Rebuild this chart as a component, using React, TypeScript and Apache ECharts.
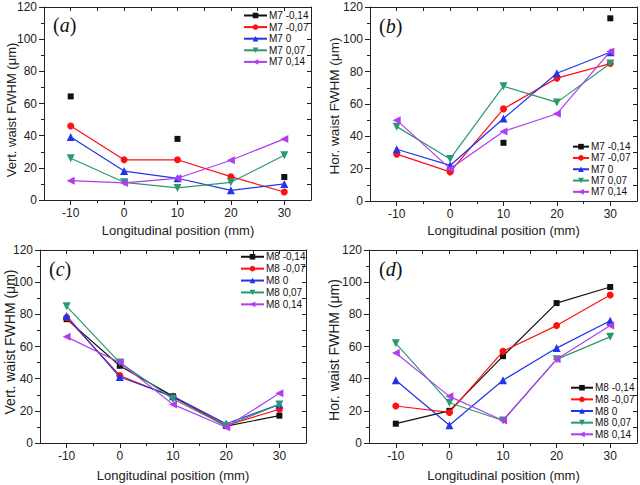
import React, { useEffect, useRef } from "react";
import * as echarts from "echarts";

// ---- data ----
const positions = [-10, 0, 10, 20, 30];
const xMajorTicks = [-10, 0, 10, 20, 30];
const xMinorTicks = [-5, 5, 15, 25];
const xTopTicks = [-10, -5, 0, 5, 10, 15, 20, 25, 30];

const namesM7 = ["M7 -0,14", "M7 -0,07", "M7 0", "M7 0,07", "M7 0,14"];
const namesM8 = ["M8 -0,14", "M8 -0,07", "M8 0", "M8 0,07", "M8 0,14"];

// (a) vertical waist, M7
const aM014 = [64.4, null, 38, null, 14.3];
const aM007 = [46, 25, 25, 14.5, 5];
const aM0 = [39.2, 18, 13.5, 6, 10];
const aP007 = [26, 11, 7.5, 11, 27.8];
const aP014 = [12, 10.6, 13.5, 24.7, 38];

// (b) horizontal waist, M7
const bM014 = [null, null, 36, null, 113];
const bM007 = [29, 18, 57, 76, 85];
const bM0 = [32, 22, 51, 79, 92];
const bP007 = [46, 26, 71, 61, 85];
const bP014 = [50, 20, 43, 54, 92.5];

// (c) vertical waist, M8
const cM014 = [77, 48, 29, 10.5, 17];
const cM007 = [78, 42, 28.5, 11, 21];
const cM0 = [79, 41, 29, 12, 24];
const cP007 = [85, 50, 27.4, 10.6, 24];
const cP014 = [66, 50, 24, 9.8, 31];

// (d) horizontal waist, M8
const dM014 = [12, 20, 54, 87, 97];
const dM007 = [23, 19, 57, 73, 92];
const dM0 = [39, 11, 39, 59, 76];
const dP007 = [62, 25, 14, 52, 66];
const dP014 = [56, 29, 14, 52, 73];

const panelData = [
  [aM014, aM007, aM0, aP007, aP014],
  [bM014, bM007, bM0, bP007, bP014],
  [cM014, cM007, cM0, cP007, cP014],
  [dM014, dM007, dM0, dP007, dP014],
];
const panelNames = [namesM7, namesM7, namesM8, namesM8];
const panelLetters = ["a", "b", "c", "d"];
const yTitles = [
  "Vert. waist FWHM (\u03bcm)",
  "Hor. waist FWHM (\u03bcm)",
  "Vert. waist FWHM (\u03bcm)",
  "Hor. waist FWHM (\u03bcm)",
];
const xTitle = "Longitudinal position (mm)";

// ---- styles / layout ----
const colors = ["#111111", "#ff1010", "#2233ee", "#2a9a6e", "#b03cf0"];
const symbols = ["rect", "circle", "triangle", "triangle", "triangle"];
const symbolRotates = [0, 0, 0, 180, 90];
const symbolSizes = [6, 7, 8, 8, 8];

const grids = [
  { left: 44, top: 7, width: 267, height: 193 },
  { left: 370, top: 7, width: 267, height: 194 },
  { left: 40, top: 250, width: 266, height: 193 },
  { left: 369, top: 250, width: 268, height: 193 },
];
const legendLayout = [
  { left: 243, top: 9.7, itemWidth: 23, lh: 11.6 },
  { left: 572, top: 141, itemWidth: 16, lh: 11.3 },
  { left: 240, top: 250.8, itemWidth: 23, lh: 11.9 },
  { left: 570, top: 381.9, itemWidth: 22, lh: 11.65 },
];
const yTitlePos = [
  { x: 11, y: 110, size: 13 },
  { x: 334, y: 106, size: 13.5 },
  { x: 10, y: 342, size: 14 },
  { x: 334, y: 350, size: 14 },
];
const xTitlePos = [
  { x: 178, y: 230, size: 13 },
  { x: 503.5, y: 230, size: 13 },
  { x: 173, y: 475, size: 13 },
  { x: 503.5, y: 475, size: 13 },
];
const letterPos = [
  { x: 53, y: 24.5 },
  { x: 379, y: 25.5 },
  { x: 49, y: 268.5 },
  { x: 379, y: 268.5 },
];

const AX = "#222222";
const FONT = "Liberation Sans, Arial, sans-serif";

function buildOption() {
  const xAxis: any[] = [];
  const yAxis: any[] = [];
  const series: any[] = [];
  const legend: any[] = [];
  const graphic: any[] = [];

  grids.forEach((g, gi) => {
    // main bottom x axis
    xAxis.push({
      gridIndex: gi,
      type: "value",
      min: -15,
      max: 35,
      position: "bottom",
      axisLine: { show: true, onZero: false, lineStyle: { color: AX, width: 1 } },
      axisTick: { show: true, length: 5, customValues: xMajorTicks, lineStyle: { color: AX } },
      axisLabel: { customValues: xMajorTicks, margin: 7, fontSize: 12, color: AX, fontFamily: FONT },
      splitLine: { show: false },
    });
    // minor bottom ticks
    xAxis.push({
      gridIndex: gi,
      type: "value",
      min: -15,
      max: 35,
      position: "bottom",
      axisLine: { show: false, onZero: false },
      axisTick: { show: true, length: 3, customValues: xMinorTicks, lineStyle: { color: AX } },
      axisLabel: { show: false },
      splitLine: { show: false },
    });
    // top mirror axis
    xAxis.push({
      gridIndex: gi,
      type: "value",
      min: -15,
      max: 35,
      position: "top",
      axisLine: { show: true, onZero: false, lineStyle: { color: AX, width: 1 } },
      axisTick: { show: true, inside: true, length: 4, customValues: xTopTicks, lineStyle: { color: AX } },
      axisLabel: { show: false },
      splitLine: { show: false },
    });
    // left y axis
    yAxis.push({
      gridIndex: gi,
      type: "value",
      min: 0,
      max: 120,
      interval: 20,
      position: "left",
      axisLine: { show: true, onZero: false, lineStyle: { color: AX, width: 1 } },
      axisTick: { show: true, length: 5, lineStyle: { color: AX } },
      minorTick: { show: true, splitNumber: 2, length: 3, lineStyle: { color: AX } },
      axisLabel: { margin: 7, fontSize: 12, color: AX, fontFamily: FONT },
      splitLine: { show: false },
      minorSplitLine: { show: false },
    });
    // right mirror y axis
    yAxis.push({
      gridIndex: gi,
      type: "value",
      min: 0,
      max: 120,
      interval: 10,
      position: "right",
      axisLine: { show: true, onZero: false, lineStyle: { color: AX, width: 1 } },
      axisTick: { show: true, inside: true, length: 4, lineStyle: { color: AX } },
      axisLabel: { show: false },
      splitLine: { show: false },
    });

    const names = panelNames[gi];
    panelData[gi].forEach((vals, si) => {
      series.push({
        type: "line",
        name: names[si],
        xAxisIndex: gi * 3,
        yAxisIndex: gi * 2,
        data: positions.map((x, i) => [x, vals[i] === null ? "-" : vals[i]]),
        symbol: symbols[si],
        symbolSize: symbolSizes[si],
        symbolRotate: symbolRotates[si],
        showAllSymbol: true,
        connectNulls: false,
        itemStyle: { color: colors[si] },
        lineStyle: { color: colors[si], width: 1.2 },
        z: 3 + si,
      });
    });

    const L = legendLayout[gi];
    legend.push({
      data: names,
      orient: "vertical",
      left: L.left,
      top: L.top,
      padding: 0,
      itemGap: 0,
      itemWidth: L.itemWidth,
      itemHeight: 7,
      selectedMode: false,
      textStyle: { fontSize: 10, color: "#111", fontFamily: FONT, lineHeight: L.lh, padding: [0, 0, 0, -3] },
    });

    const yt = yTitlePos[gi];
    graphic.push({
      type: "text",
      x: yt.x,
      y: yt.y,
      rotation: Math.PI / 2,
      style: {
        text: yTitles[gi],
        fontSize: yt.size,
        fontFamily: FONT,
        fill: AX,
        align: "center",
        verticalAlign: "middle",
      },
    });
    const xt = xTitlePos[gi];
    graphic.push({
      type: "text",
      x: xt.x,
      y: xt.y,
      style: {
        text: xTitle,
        fontSize: xt.size,
        fontFamily: FONT,
        fill: AX,
        align: "center",
        verticalAlign: "middle",
      },
    });
    const lp = letterPos[gi];
    graphic.push({
      type: "text",
      x: lp.x,
      y: lp.y,
      style: {
        text: "{p|(}{l|" + panelLetters[gi] + "}{p|)}",
        verticalAlign: "middle",
        align: "left",
        rich: {
          p: { fontSize: 20, fontFamily: "Liberation Serif, Times New Roman, serif", fill: "#111" },
          l: { fontSize: 20, fontStyle: "italic", fontFamily: "Liberation Serif, Times New Roman, serif", fill: "#111" },
        },
      },
    });
  });

  return {
    animation: false,
    backgroundColor: "#ffffff",
    textStyle: { fontFamily: FONT },
    grid: grids.map((g) => ({ ...g, containLabel: false })),
    xAxis,
    yAxis,
    legend,
    series,
    graphic,
  };
}

export default function App() {
  const ref = useRef<HTMLDivElement>(null);
  useEffect(() => {
    if (!ref.current) return;
    const chart = echarts.init(ref.current, undefined, { renderer: "svg" });
    chart.setOption(buildOption() as any);
    return () => chart.dispose();
  }, []);
  return (
    <div
      ref={ref}
      style={{ position: "fixed", left: 0, top: 0, width: 640, height: 485, background: "#fff" }}
    />
  );
}
